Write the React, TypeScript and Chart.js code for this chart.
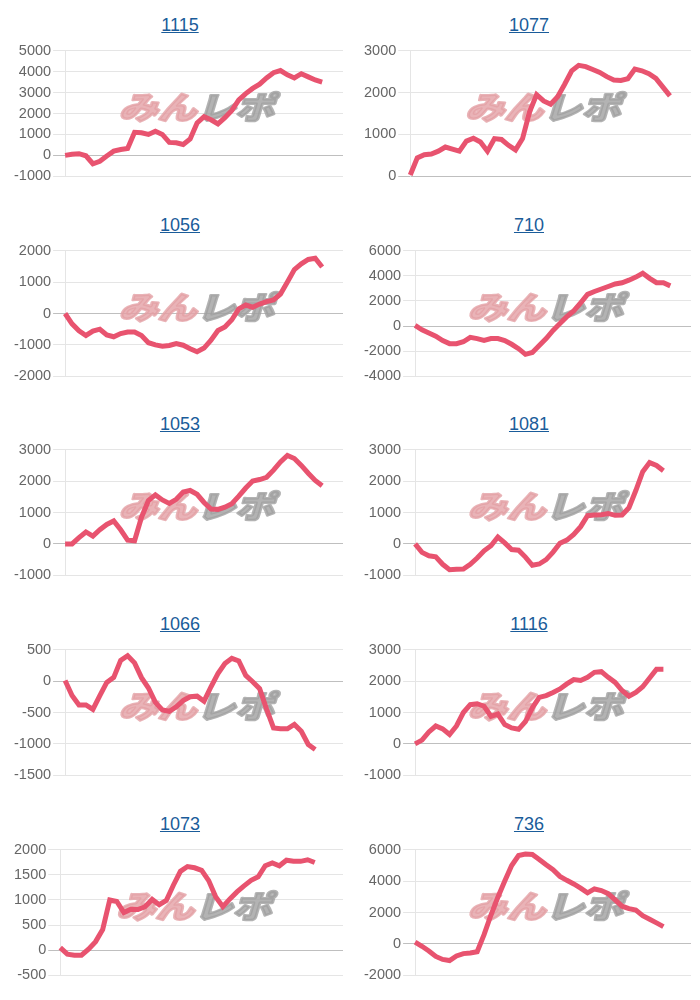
import React, { useEffect, useRef } from "react";
import { Chart, registerables } from "chart.js";

Chart.register(...registerables);

// ---- data ----
const xLabels = [
  "1", "2", "3", "4", "5", "6", "7", "8", "9", "10",
  "11", "12", "13", "14", "15", "16", "17", "18", "19", "20",
  "21", "22", "23", "24", "25", "26", "27", "28", "29", "30",
  "31", "32", "33", "34", "35", "36", "37", "38", "39", "40", "41",
];

const titles = ["1115", "1077", "1056", "710", "1053", "1081", "1066", "1116", "1073", "736"];

const s1115 = [0, 50, 80, -20, -400, -280, -30, 200, 280, 330, 1100, 1080, 1000, 1150, 1000, 620, 600, 520, 780, 1550, 1850, 1700, 1500, 1800, 2150, 2650, 2950, 3200, 3400, 3700, 3950, 4050, 3850, 3700, 3900, 3750, 3600, 3500];
const s1077 = [30, 440, 515, 530, 600, 700, 650, 600, 840, 910, 820, 600, 900, 880, 740, 630, 900, 1540, 1950, 1800, 1720, 1900, 2200, 2520, 2650, 2620, 2550, 2480, 2380, 2300, 2290, 2330, 2560, 2520, 2450, 2340, 2130, 1920];
const s1056 = [0, -330, -550, -700, -560, -500, -680, -740, -640, -590, -590, -700, -930, -1000, -1040, -1020, -960, -1010, -1120, -1220, -1100, -850, -540, -430, -200, 150, 270, 200, 300, 380, 430, 620, 1000, 1400, 1580, 1720, 1760, 1480];
const s710 = [50, -300, -550, -800, -1150, -1400, -1400, -1250, -900, -1000, -1150, -1000, -1000, -1150, -1450, -1800, -2250, -2100, -1550, -1000, -350, 200, 750, 1200, 1850, 2520, 2750, 2950, 3150, 3350, 3450, 3650, 3900, 4200, 3800, 3450, 3450, 3200];
const s1053 = [0, 0, 200, 380, 250, 450, 620, 730, 450, 120, 100, 850, 1380, 1560, 1400, 1290, 1420, 1650, 1700, 1580, 1320, 1110, 1100, 1170, 1280, 1520, 1780, 2000, 2050, 2120, 2350, 2610, 2820, 2720, 2500, 2250, 2020, 1850];
const s1081 = [0, -270, -380, -410, -650, -820, -810, -800, -650, -450, -220, -60, 220, 30, -180, -200, -420, -680, -640, -500, -260, 20, 120, 300, 550, 900, 920, 930, 970, 910, 920, 1150, 1700, 2300, 2590, 2500, 2330];
const s1066 = [10, -230, -380, -380, -450, -230, -20, 60, 330, 405, 290, 55, -110, -340, -460, -480, -410, -310, -250, -240, -320, -90, 120, 280, 362, 320, 90, -10, -120, -445, -745, -760, -760, -690, -800, -1010, -1090];
const s1116 = [0, 120, 380, 570, 480, 300, 570, 1000, 1250, 1280, 1200, 880, 950, 615, 510, 465, 713, 1150, 1480, 1540, 1640, 1750, 1910, 2050, 2020, 2120, 2280, 2300, 2120, 1960, 1700, 1520, 1640, 1820, 2100, 2380, 2380];
const s1073 = [50, -80, -100, -100, 20, 170, 410, 1000, 970, 750, 815, 810, 865, 1010, 905, 990, 1293, 1570, 1665, 1640, 1590, 1385, 1060, 866, 1020, 1160, 1280, 1390, 1460, 1680, 1736, 1679, 1790, 1770, 1768, 1800, 1745];
const s736 = [120, -150, -450, -800, -990, -1060, -770, -620, -580, -500, 590, 1840, 2970, 4000, 4990, 5630, 5720, 5700, 5380, 5040, 4720, 4300, 4050, 3820, 3550, 3250, 3500, 3400, 3200, 2800, 2400, 2250, 2150, 1800, 1570, 1340, 1100];

const seriesList = [s1115, s1077, s1056, s710, s1053, s1081, s1066, s1116, s1073, s736];
const yMins = [-1000, 0, -2000, -4000, -1000, -1000, -1500, -1000, -500, -2000];
const yMaxs = [5000, 3000, 2000, 6000, 3000, 3000, 500, 3000, 2000, 6000];
const ySteps = [1000, 1000, 1000, 2000, 1000, 1000, 500, 1000, 500, 2000];

// ---- styling ----
const LINE_COLOR = "#e8536f";
const FONT = "'Liberation Sans', Arial, sans-serif";
const CANVAS_H = 147;

const watermarkPlugin = {
  id: "watermark",
  beforeDatasetsDraw(chart: any) {
    const { ctx, chartArea: a } = chart;
    const cx = (a.left + a.right) / 2 - 4;
    const cy = a.top + a.height * 0.45;
    ctx.save();
    ctx.translate(cx, cy);
    ctx.transform(1.25, 0, -0.3, 1, 0, 0);
    ctx.font = "900 31px 'Noto Sans CJK JP'";
    ctx.textBaseline = "middle";
    ctx.lineJoin = "round";
    ctx.lineWidth = 2.5;
    ctx.textAlign = "right";
    ctx.fillStyle = "rgba(228,160,165,0.8)";
    ctx.strokeStyle = "rgba(228,160,165,0.8)";
    ctx.strokeText("みん", 0, 0);
    ctx.fillText("みん", 0, 0);
    ctx.textAlign = "left";
    ctx.fillStyle = "rgba(160,160,160,0.8)";
    ctx.strokeStyle = "rgba(160,160,160,0.8)";
    ctx.strokeText("レポ", 0, 0);
    ctx.fillText("レポ", 0, 0);
    ctx.restore();
  },
};

function MiniChart(props: { idx: number; width: number }) {
  const ref = useRef<HTMLCanvasElement | null>(null);
  const { idx, width } = props;
  useEffect(() => {
    if (!ref.current) return;
    const chart = new Chart(ref.current, {
      type: "line",
      data: {
        labels: xLabels,
        datasets: [
          {
            data: seriesList[idx],
            borderColor: LINE_COLOR,
            backgroundColor: LINE_COLOR,
            borderWidth: 5,
            pointRadius: 0,
            pointHoverRadius: 0,
            tension: 0,
            fill: false,
          },
        ],
      },
      options: {
        animation: false,
        responsive: false,
        maintainAspectRatio: false,
        layout: { padding: { left: 4, right: 9, top: 0, bottom: 0 } },
        plugins: {
          legend: { display: false },
          tooltip: { enabled: false },
          title: { display: false },
        },
        scales: {
          x: { display: false },
          y: {
            min: yMins[idx],
            max: yMaxs[idx],
            border: { display: true, color: "rgba(0,0,0,0.1)" },
            grid: {
              color: (c: any) => (c.tick && c.tick.value === 0 ? "rgba(0,0,0,0.25)" : "rgba(0,0,0,0.1)"),
              tickLength: 12,
            },
            ticks: {
              stepSize: ySteps[idx],
              padding: 2,
              color: "#666",
              font: { family: FONT, size: 14.5 },
              callback: (v: any) => String(v),
            },
          },
        },
      },
      plugins: [watermarkPlugin],
    });
    return () => chart.destroy();
  }, [idx]);
  return <canvas ref={ref} width={width} height={CANVAS_H} style={{ display: "block", width, height: CANVAS_H }} />;
}

const rowTops = [8, 208, 407, 607, 807];
const colLefts = [8, 358];
const colWidths = [344, 342];

export default function App() {
  return (
    <div style={{ position: "absolute", left: 0, top: 0, width: 700, height: 1000, overflow: "hidden", background: "#fff" }}>
      {titles.map((t, i) => {
        const r = Math.floor(i / 2);
        const c = i % 2;
        return (
          <div key={t} style={{ position: "absolute", left: colLefts[c], top: rowTops[r], width: colWidths[c], height: 190 }}>
            <div
              style={{
                height: 32,
                lineHeight: "34px",
                textAlign: "center",
                fontFamily: FONT,
                fontSize: 18,
                color: "#1a5c9a",
                textDecoration: "underline",
              }}
            >
              {t}
            </div>
            <MiniChart idx={i} width={colWidths[c]} />
          </div>
        );
      })}
    </div>
  );
}
